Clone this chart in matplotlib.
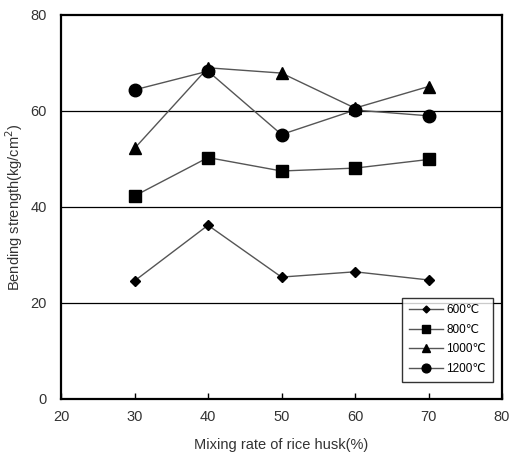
import matplotlib.pyplot as plt
import numpy as np

plt.rcParams['font.family'] = ['Liberation Sans', 'DejaVu Sans']

# 데이터
rate = [30, 40, 50, 60, 70]
s600 = [24.6, 36.2, 25.4, 26.5, 24.8]
s800 = [42.3, 50.3, 47.5, 48.1, 49.9]
s1000 = [52.2, 69.0, 67.9, 60.6, 65.1]
s1200 = [64.4, 68.3, 55.1, 60.2, 59.0]
labels = ['600\u2103', '800\u2103', '1000\u2103', '1200\u2103']

fig = plt.figure(figsize=(5.13, 4.66), dpi=100)
ax = fig.add_axes([61 / 513, 1 - 399 / 466, 441 / 513, 384 / 466])

for y in [20, 40, 60]:
    ax.axhline(y, color='black', lw=0.9, zorder=1)

styles = [('D', 5), ('s', 8), ('^', 8), ('o', 9)]
for data, lab, (m, ms) in zip([s600, s800, s1000, s1200], labels, styles):
    ax.plot(rate, data, color='#555555', lw=1.0, marker=m, ms=ms,
            mfc='black', mec='black', label=lab, zorder=3)

ax.set_xlim(20, 80)
ax.set_ylim(0, 80)
ax.set_xticks(np.arange(20, 81, 10))
ax.set_yticks(np.arange(0, 81, 20))
ax.tick_params(axis='x', direction='in', length=4, width=1, pad=8, labelsize=10.5, colors='black', labelcolor='#333333')
ax.tick_params(axis='y', length=0, pad=10, labelsize=10.5, labelcolor='#333333')
for sp in ax.spines.values():
    sp.set_linewidth(1.6)

ax.set_xlabel('Mixing rate of rice husk(%)', fontsize=10.5, color='#333333', labelpad=10)
ax.set_ylabel('Bending strength(kg/cm$^2$)', fontsize=10.5, color='#333333', labelpad=4)

leg = ax.legend(loc='lower right', bbox_to_anchor=(0.992, 0.03), fontsize=8.5, frameon=True,
                fancybox=False, edgecolor='black', handlelength=2.9, handletextpad=0.3,
                markerscale=0.7, labelspacing=0.65, borderpad=0.55)
leg.get_frame().set_linewidth(1.0)

plt.savefig('out.png', dpi=100)
